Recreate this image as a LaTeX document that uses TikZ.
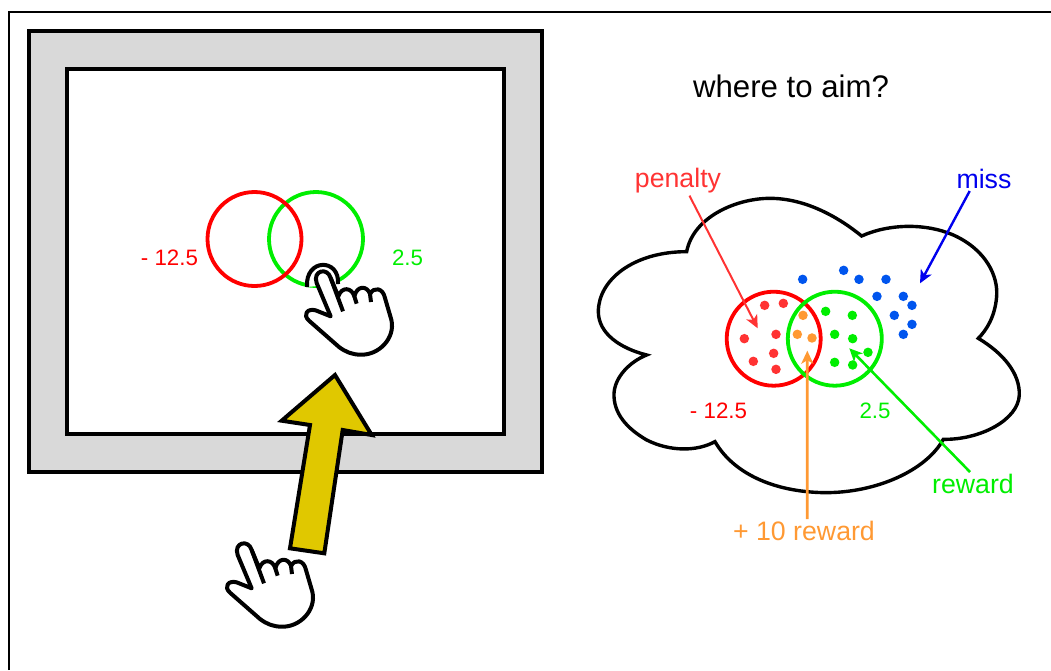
\documentclass[tikz,border=0pt]{standalone}
\usepackage{fontspec}
\setmainfont{Liberation Sans}
\usetikzlibrary{arrows.meta}
\definecolor{cPenalty}{RGB}{255,51,51}
\definecolor{cRed}{RGB}{255,0,0}
\definecolor{cGreen}{RGB}{0,238,0}
\definecolor{cBlue}{RGB}{0,0,238}
\definecolor{cDotBlue}{RGB}{0,85,238}
\definecolor{cOrange}{RGB}{255,153,51}
\definecolor{cGold}{RGB}{224,200,0}
\definecolor{cFrame}{RGB}{217,217,217}
\tikzset{
	panel/.style    ={rectangle, draw=black, line width=3.2pt, inner sep=0pt},
	ring/.style     ={circle, line width=3.8pt, minimum size=94pt, inner sep=0pt},
	hit/.style      ={circle, minimum size=9.5pt, inner sep=0pt},
	score/.style    ={font=\fontsize{22.3}{24}\selectfont, inner sep=0pt},
	tag/.style      ={font=\fontsize{26.7}{28}\selectfont, inner sep=2pt},
	pointer/.style  ={-{Stealth[length=13pt, width=12pt, inset=3.5pt]}},
	pics/hand/.style={code={
		\draw[line width=4pt, fill=white, line join=round] (125,205) -- (83,105) .. controls (70,68) and (115,56) .. (125,90) -- (148,145) .. controls (158,115) and (188,118) .. (196,145) .. controls (204,112) and (234,112) .. (243,138) .. controls (255,115) and (282,120) .. (288,150) -- (307,215) .. controls (320,270) and (270,322) .. (215,320) .. controls (190,320) and (170,312) .. (150,297) -- (60,218) .. controls (40,200) and (55,180) .. (80,187) -- cycle;
		\draw[line width=4pt] (125,90) -- (162,190);
		\draw[line width=4pt] (196,145) -- (203,167);
		\draw[line width=4pt] (243,138) -- (246,162);
	}},
}
\begin{document}
\begin{tikzpicture}[x=1pt, y=-1pt]
	\useasboundingbox (0,0) rectangle (1051,670);
	\draw[line width=2pt] (9,670) -- (9,12) -- (1051,12);
	% left panel
	\node[panel, fill=cFrame, minimum width=513pt, minimum height=441pt] (outerframe) at (285.5,251.5) {};
	\node[panel, fill=white, minimum width=437pt, minimum height=365pt] (screen) at (285.5,251.5) {};
	\node[ring, draw=cGreen] (greenleft) at (316,239) {};
	\node[ring, draw=cRed] (redleft) at (254.5,239) {};
	\node[score, text=cRed] (lossleft) at (169.5,258) {- 12.5};
	\node[score, text=cGreen] (gainleft) at (407.5,258) {2.5};
	\draw[line width=4pt, fill=white] (307,287) .. controls (305,258) and (340,258) .. (338,284);
	\pic[scale=0.3333] (touchhand) at (289,248) {hand};
	\pic[scale=0.3333] (starthand) at (210,520) {hand};
	\draw[line width=4pt, fill=cGold, line join=miter] (335,375) -- (371.7,435) -- (342.7,430) -- (324.3,553.3) -- (290,548.3) -- (310,425) -- (281.7,420.7) -- cycle;
	% right panel
	\node[font=\fontsize{31.2}{34}\selectfont, inner sep=0pt] (question) at (791,86) {where to aim?};
	\begin{scope}[shift={(590,180)}, scale=0.3333]
		\draw[line width=3.4pt, line join=miter] (290,215) .. controls (310,110) and (440,55) .. (540,55) .. controls (650,55) and (750,115) .. (815,168) .. controls (900,130) and (1010,130) .. (1090,165) .. controls (1190,210) and (1225,290) .. (1220,350) .. controls (1215,410) and (1190,450) .. (1165,475) .. controls (1240,520) and (1290,580) .. (1288,645) .. controls (1285,720) and (1170,780) .. (1060,778) .. controls (1010,870) and (860,940) .. (700,938) .. controls (550,935) and (430,880) .. (375,785) .. controls (320,815) and (240,815) .. (170,780) .. controls (110,745) and (70,700) .. (72,640) .. controls (75,590) and (120,545) .. (170,525) .. controls (90,505) and (25,460) .. (25,395) .. controls (25,300) and (130,215) .. (290,215) -- cycle;
	\end{scope}
	\node[ring, draw=cRed] (redright) at (773.7,338.7) {};
	\node[ring, draw=cGreen] (greenright) at (834.8,338.7) {};
	\begin{scope}[shift={(700,250)}, scale=0.3333]
		\foreach \px/\py in {308/88,431/61,477/88,558/88,531/139,610/139,636/166,583/196,636/223,610/253}
			\node[hit, fill=cDotBlue] at (\px,\py) {};
		\foreach \px/\py in {194/166,250/160,228/253,133/266,221/310,160/334,228/358}
			\node[hit, fill=cPenalty] at (\px,\py) {};
		\foreach \px/\py in {309/196,292/253,336/264}
			\node[hit, fill=cOrange] at (\px,\py) {};
		\foreach \px/\py in {377/184,457/196,404/253,458/266,504/307,404/337,458/345}
			\node[hit, fill=cGreen] at (\px,\py) {};
	\end{scope}
	\node[score, text=cRed] (lossright) at (718.5,411) {- 12.5};
	\node[score, text=cGreen] (gainright) at (875,411) {2.5};
	\node[tag, text=cPenalty] (penalty) at (678,181) {penalty};
	\node[tag, text=cBlue] (miss) at (984,179) {miss};
	\node[tag, text=cGreen] (reward) at (973,484) {reward};
	\node[tag, text=cOrange] (bonus) at (804,531) {+ 10 reward};
	\coordinate (penaltyaim) at (757.7,328.3);
	\coordinate (missaim) at (920,283.3);
	\coordinate (rewardaim) at (849.3,348.3);
	\coordinate (bonusaim) at (807.3,350.7);
	\draw[pointer, cPenalty, line width=2pt] (penalty.-52) -- (penaltyaim);
	\draw[pointer, cBlue, line width=2.4pt] (miss.-140) -- (missaim);
	\draw[pointer, cGreen, line width=2.6pt] (reward.104) -- (rewardaim);
	\draw[pointer, cOrange, line width=2.8pt] (bonus.75) -- (bonusaim);
\end{tikzpicture}
\end{document}
